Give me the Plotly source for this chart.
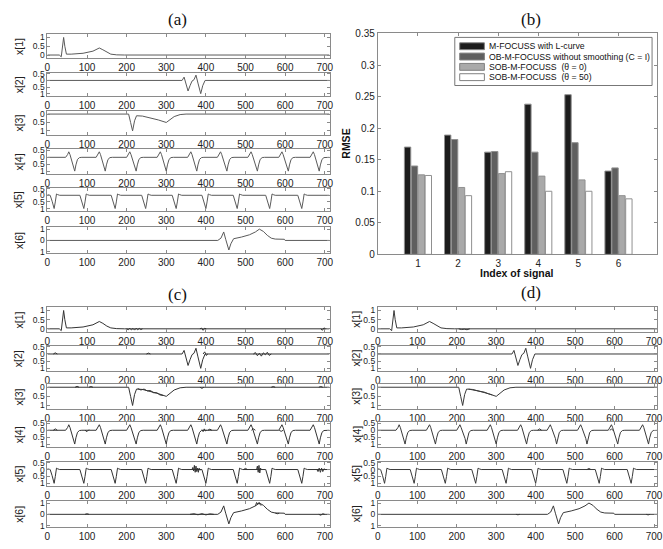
import plotly.graph_objects as go

W, H = 663, 549

# ---------------- DATA ----------------
# Clean source signals (panel a; also used for panel d)
s1_t = [0, 30, 35, 38, 41, 44, 48, 60, 90, 115, 125, 131, 140, 150, 160, 175, 195, 712]
s1_v = [0, 0, -0.1, 0.5, 1.0, 0.5, 0.05, 0.05, 0.1, 0.22, 0.33, 0.4, 0.3, 0.15, 0.05, 0.01, 0, 0]

s2_t = [0, 340, 345, 350, 355, 360, 365, 370, 375, 380, 387, 392, 398, 712]
s2_v = [0, 0, 0.25, -0.3, -0.8, -0.4, -0.05, 0.05, 0.4, -0.2, -1.0, -0.4, 0, 0]

s3_t = [0, 205, 210, 215, 220, 225, 240, 260, 280, 300, 310, 320, 335, 350, 712]
s3_v = [0, 0, -0.5, -1.0, -0.4, -0.1, -0.12, -0.22, -0.35, -0.5, -0.35, -0.15, -0.03, 0, 0]

s4_t = [0,
        46, 51, 54, 57, 66, 69, 72, 76, 81, 87,
        123, 128, 131, 134, 143, 146, 149, 153, 158, 164,
        200, 205, 208, 211, 221, 224, 227, 231, 236, 242,
        277, 282, 285, 288, 297, 300, 303, 307, 312, 318,
        354, 359, 362, 365, 374, 377, 380, 384, 389, 395,
        429, 434, 437, 440, 450, 453, 456, 460, 465, 471,
        506, 511, 514, 517, 527, 530, 533, 537, 542, 548,
        584, 589, 592, 595, 605, 608, 611, 615, 620, 626,
        663, 668, 671, 674, 683, 686, 689, 693, 698, 704,
        712]
s4_v = [0,
        0, 0.2, 0.4, 0.2, -0.6, -1.0, -0.55, -0.15, -0.02, 0,
        0, 0.2, 0.4, 0.2, -0.6, -1.0, -0.55, -0.15, -0.02, 0,
        0, 0.2, 0.4, 0.2, -0.6, -1.0, -0.55, -0.15, -0.02, 0,
        0, 0.2, 0.4, 0.2, -0.6, -1.0, -0.55, -0.15, -0.02, 0,
        0, 0.2, 0.4, 0.2, -0.6, -1.0, -0.55, -0.15, -0.02, 0,
        0, 0.2, 0.4, 0.2, -0.6, -1.0, -0.55, -0.15, -0.02, 0,
        0, 0.2, 0.4, 0.2, -0.6, -1.0, -0.55, -0.15, -0.02, 0,
        0, 0.2, 0.4, 0.2, -0.6, -1.0, -0.55, -0.15, -0.02, 0,
        0, 0.2, 0.4, 0.2, -0.6, -1.0, -0.55, -0.15, -0.02, 0,
        0]

s5_t = [0, 4,
        7, 12, 17, 20, 23, 26, 31,
        82, 87, 92, 95, 98, 101, 106,
        161, 166, 171, 174, 177, 180, 185,
        238, 243, 248, 251, 254, 257, 262,
        315, 320, 325, 328, 331, 334, 339,
        390, 395, 400, 403, 406, 409, 414,
        469, 474, 479, 482, 485, 488, 493,
        551, 556, 561, 564, 567, 570, 575,
        632, 637, 642, 645, 648, 651, 656,
        712]
s5_v = [0.05, 0.05,
        0, -0.45, -1.0, -0.5, 0.1, 0.05, 0,
        0, -0.45, -1.0, -0.5, 0.1, 0.05, 0,
        0, -0.45, -1.0, -0.5, 0.1, 0.05, 0,
        0, -0.45, -1.0, -0.5, 0.1, 0.05, 0,
        0, -0.45, -1.0, -0.5, 0.1, 0.05, 0,
        0, -0.45, -1.0, -0.5, 0.1, 0.05, 0,
        0, -0.45, -1.0, -0.5, 0.1, 0.05, 0,
        0, -0.45, -1.0, -0.5, 0.1, 0.05, 0,
        0, -0.45, -1.0, -0.5, 0.1, 0.05, 0,
        0]

s6_t = [0, 430, 438, 445, 450, 458, 463, 470, 490, 510, 525, 535, 545, 555, 565, 575, 598, 600, 712]
s6_v = [0, 0, 0.2, 0.75, 0.1, -0.85, -0.3, 0.15, 0.3, 0.5, 0.75, 1.0, 0.8, 0.45, 0.2, 0.12, 0.1, 0, 0]

# Recovery artefacts visible in panel (c)
c1_t = [200, 204, 208, 212, 216, 220, 224, 228, 232, 236, 240, None, 385, 389, 393, 397, 401, None, 690, 694, 698, 702]
c1_v = [0, -0.05, 0.03, -0.06, 0.02, -0.07, 0.03, -0.05, 0.02, -0.04, 0, None, 0, 0.04, -0.08, 0.03, 0, None, 0, -0.08, 0.05, 0]
c2_t = [15, 20, 25, None, 250, 255, 260, None, 393, 397, 401, 405, None, 520, 525, 530, 535, 540, 545, 550, 555, 560, 565]
c2_v = [0, 0.08, 0, None, 0, 0.06, 0, None, 0, 0.15, -0.1, 0, None, 0, 0.1, -0.12, 0.05, -0.15, 0.08, -0.05, 0.12, -0.1, 0]
c3_t = [70, 75, 80, None, 105, 110, 115, None, 228, 236, 244, 252, 260, 268, 276, 284, 292, None, 385, 390, 395, None, 565, 570, 575, None, 685, 690, 695]
c3_v = [0, 0.05, 0, None, 0, 0.04, 0, None, -0.07, -0.15, -0.1, -0.2, -0.18, -0.3, -0.3, -0.42, -0.45, None, 0, -0.06, 0, None, 0, 0.04, 0, None, 0, 0.04, 0]
c4_t = [15, 20, 25, None, 95, 100, 105, None, 390, 393, 396, 399, 402, None, 405, 410, 415, None, 515, 520, 525, None, 585, 590, 595]
c4_v = [0, 0.1, 0, None, 0, -0.1, 0.05, None, 0.05, -0.1, 0.1, -0.05, 0, None, 0, 0.08, 0, None, 0, 0.1, 0, None, 0, -0.08, 0]
c5_t = [365, 367, 369, 371, 373, 375, 377, 379, 381, 383, 385, 387, None, 495, 500, 505, None, 528, 530, 532, 534, 536, 538, 540, None, 680, 683, 686, 689, 692, 695, 698, 701]
c5_v = [0, 0.15, -0.1, 0.3, -0.2, 0.25, -0.15, 0.1, -0.2, 0.1, -0.05, 0, None, 0, 0.08, 0, None, 0, 0.25, -0.2, 0.3, -0.25, 0.1, 0, None, 0, -0.15, 0.1, -0.2, 0.1, -0.15, 0.05, 0]
c6_t = [95, 100, 105, None, 360, 370, 380, 390, 400, 410, 420, None, 525, 528, 531, 534, 537, 540, None, 575, 580, 585, None, 685, 690, 695, 700]
c6_v = [0, 0.05, 0, None, 0, 0.05, -0.04, 0.06, -0.05, 0.04, 0, None, 0.75, 1.05, 0.9, 1.05, 0.85, 0.8, None, 0.12, 0.05, 0.1, None, 0, -0.08, 0.05, 0]

# Small artefacts visible in panel (d)
d1_t = [205, 212, 219, 226, 233]
d1_v = [0, -0.04, -0.02, -0.05, 0]
d3_t = [230, 240, 250, 260, 270, 280, 290]
d3_v = [-0.1, -0.14, -0.16, -0.23, -0.27, -0.36, -0.42]
d4_t = [405, 410, 415, None, 588, 592, 596]
d4_v = [0, 0.1, 0, None, 0, 0.08, 0]
d5_t = [530, 535, 540]
d5_v = [0, 0.08, 0]
d6_t = [350, 355, 360, None, 680, 685, 690]
d6_v = [0, -0.04, 0, None, 0, -0.05, 0]

# Bar chart (b)
signal_index = [1, 2, 3, 4, 5, 6]
rmse_mfocuss = [0.170, 0.189, 0.162, 0.238, 0.253, 0.132]
rmse_ob = [0.140, 0.182, 0.163, 0.162, 0.177, 0.137]
rmse_sob0 = [0.126, 0.106, 0.128, 0.124, 0.118, 0.093]
rmse_sob50 = [0.125, 0.093, 0.131, 0.100, 0.100, 0.088]
series_names = ["M-FOCUSS with L-curve", "OB-M-FOCUSS without smoothing (C = I)",
                "SOB-M-FOCUSS  (\u03b8 = 0)", "SOB-M-FOCUSS  (\u03b8 = 50)"]
series_colors = ["#1c1c1c", "#5f5f5f", "#a9a9a9", "#ffffff"]

rmse_ticks = [0, 0.05, 0.1, 0.15, 0.2, 0.25, 0.3, 0.35]
rmse_ticktext = ["0", "0.05", "0.1", "0.15", "0.2", "0.25", "0.3", "0.35"]
time_ticks = [0, 100, 200, 300, 400, 500, 600, 700]

sig_titles = ["x[1]", "x[2]", "x[3]", "x[4]", "x[5]", "x[6]"]
sig_tickvals = [[0, 0.5, 1], [-1, -0.5, 0, 0.5], [-1, -0.5, 0], [-1, -0.5, 0, 0.5], [-1, -0.5, 0, 0.5], [-1, 0, 1]]
sig_ticktext = [["0", "0.5", "1"], ["1", "0.5", "0", "0.5"], ["1", "0.5", "0"], ["1", "0.5", "0", "0.5"], ["1", "0.5", "0", "0.5"], ["1", "0", "1"]]
sig_ranges = [[-0.17, 1.17], [-1.2, 0.58], [-1.22, 0.18], [-1.2, 0.58], [-1.2, 0.58], [-1.15, 1.2]]

# ---------------- LAYOUT ----------------
def fx(p):
    return p / W

def fy(p):
    return 1 - p / H

rows_top = [(30, 54), (69, 93), (108, 132), (147, 172), (186, 210), (226, 253)]
rows_bot = [(308, 333), (347, 373), (386, 412), (425, 450), (465, 490), (505, 532)]

panels = [
    dict(xd=[fx(45), fx(331)], xr=[0, 712], rows=rows_top, tx=16, color="#5a5a5a",
         sig=[(s1_t, s1_v), (s2_t, s2_v), (s3_t, s3_v), (s4_t, s4_v), (s5_t, s5_v), (s6_t, s6_v)],
         extra=[None] * 6),
    dict(xd=[fx(45), fx(331)], xr=[0, 712], rows=rows_bot, tx=16, color="#333333",
         sig=[(s1_t, s1_v), (s2_t, s2_v), (s3_t, s3_v), (s4_t, s4_v), (s5_t, s5_v), (s6_t, s6_v)],
         extra=[(c1_t, c1_v), (c2_t, c2_v), (c3_t, c3_v), (c4_t, c4_v), (c5_t, c5_v), (c6_t, c6_v)]),
    dict(xd=[fx(380), 1.0], xr=[0, 707.5], rows=rows_bot, tx=358, color="#3a3a3a",
         sig=[(s1_t, s1_v), (s2_t, s2_v), (s3_t, s3_v), (s4_t, s4_v), (s5_t, s5_v), (s6_t, s6_v)],
         extra=[(d1_t, d1_v), None, (d3_t, d3_v), (d4_t, d4_v), (d5_t, d5_v), (d6_t, d6_v)]),
]

fig = go.Figure()
layout = dict(width=W, height=H, margin=dict(l=0, r=0, t=0, b=0), autosize=False,
              paper_bgcolor="white", plot_bgcolor="white", showlegend=False,
              font=dict(family="Liberation Sans", size=10, color="#222"))
annotations = []
shapes = []

axis_line = "#8a8a8a"
n = 0
for p in panels:
    for r in range(6):
        n += 1
        top, bot = p["rows"][r]
        xa = "xaxis" if n == 1 else f"xaxis{n}"
        ya = "yaxis" if n == 1 else f"yaxis{n}"
        xs = "x" if n == 1 else f"x{n}"
        ysn = "y" if n == 1 else f"y{n}"
        layout[xa] = dict(domain=p["xd"], range=p["xr"], anchor=ysn, showline=True, linecolor=axis_line,
                          linewidth=1, mirror="ticks", ticks="inside", ticklen=3, tickcolor=axis_line,
                          tickvals=time_ticks, showgrid=False, zeroline=False, ticklabeloverflow="allow",
                          tickfont=dict(size=10, color="#222"))
        layout[ya] = dict(domain=[fy(bot), fy(top)], range=sig_ranges[r], anchor=xs, showline=True,
                          linecolor=axis_line, linewidth=1, mirror="ticks", ticks="inside", ticklen=3,
                          tickcolor=axis_line, tickvals=sig_tickvals[r], ticktext=sig_ticktext[r],
                          showgrid=False, zeroline=False, ticklabeloverflow="allow",
                          tickfont=dict(size=8.5, color="#222"))
        t, v = p["sig"][r]
        fig.add_trace(go.Scatter(x=t, y=v, mode="lines", line=dict(color=p["color"], width=1),
                                 xaxis=xs, yaxis=ysn, hoverinfo="skip"))
        if p["extra"][r] is not None:
            et, ev = p["extra"][r]
            fig.add_trace(go.Scatter(x=et, y=ev, mode="lines", line=dict(color=p["color"], width=1),
                                     xaxis=xs, yaxis=ysn, hoverinfo="skip", connectgaps=False))
        annotations.append(dict(text=sig_titles[r], x=fx(p["tx"]), y=fy((top + bot) / 2), xref="paper",
                                yref="paper", showarrow=False, textangle=-90,
                                font=dict(size=10.5, color="#222"), xanchor="center", yanchor="middle"))

# Bar chart (b)
bx = "x19"
by = "y19"
layout["xaxis19"] = dict(domain=[fx(380), 1.0], range=[0, 6.96], anchor=by, showline=True, linecolor=axis_line,
                         mirror="ticks", ticks="inside", ticklen=3, tickcolor=axis_line, tickvals=signal_index,
                         showgrid=False, zeroline=False, tickfont=dict(size=10, color="#222"))
layout["yaxis19"] = dict(domain=[fy(254), fy(29)], range=[0, 0.35], anchor=bx, showline=True, linecolor=axis_line,
                         mirror="ticks", ticks="inside", ticklen=3, tickcolor=axis_line, tickvals=rmse_ticks,
                         ticktext=rmse_ticktext, showgrid=False, zeroline=False, tickfont=dict(size=10, color="#222"))
for name, vals, col in zip(series_names, [rmse_mfocuss, rmse_ob, rmse_sob0, rmse_sob50], series_colors):
    fig.add_trace(go.Bar(x=signal_index, y=vals, name=name, marker=dict(color=col, line=dict(color="#909090", width=1)),
                         xaxis=bx, yaxis=by, hoverinfo="skip"))
layout["barmode"] = "group"
layout["bargap"] = 0.31
layout["bargroupgap"] = 0.08

# manual legend
shapes.append(dict(type="rect", xref="paper", yref="paper", x0=fx(458), x1=fx(658), y0=fy(82), y1=fy(33),
                   line=dict(color="#777", width=1), fillcolor="white"))
row_y = [42, 52.5, 63, 73.5]
for name, col, ry in zip(series_names, series_colors, row_y):
    shapes.append(dict(type="rect", xref="paper", yref="paper", x0=fx(463), x1=fx(488), y0=fy(ry + 3.5),
                       y1=fy(ry - 3.5), line=dict(color="#808080", width=1), fillcolor=col))
    annotations.append(dict(text=name, x=fx(491), y=fy(ry), xref="paper", yref="paper", showarrow=False,
                            xanchor="left", yanchor="middle", font=dict(size=8.7, color="#111")))

annotations.append(dict(text="<b>RMSE</b>", x=fx(348), y=fy(141), xref="paper", yref="paper", showarrow=False,
                        textangle=-90, xanchor="center", yanchor="middle", font=dict(size=10.5, color="#111")))
annotations.append(dict(text="<b>Index of signal</b>", x=fx(521), y=fy(273), xref="paper", yref="paper",
                        showarrow=False, xanchor="center", yanchor="middle", font=dict(size=10.5, color="#111")))

for lab, x, y in [("(a)", 177, 15), ("(b)", 535, 15), ("(c)", 177, 295), ("(d)", 535, 293)]:
    annotations.append(dict(text=lab, x=fx(x), y=fy(y), xref="paper", yref="paper", showarrow=False,
                            xanchor="center", yanchor="middle",
                            font=dict(family="Liberation Serif", size=17, color="#111")))

layout["annotations"] = annotations
layout["shapes"] = shapes
fig.update_layout(**layout)
fig.write_html("out.html", config={"displayModeBar": False},
               post_script="document.body.style.margin='0';document.body.style.overflow='hidden';")
